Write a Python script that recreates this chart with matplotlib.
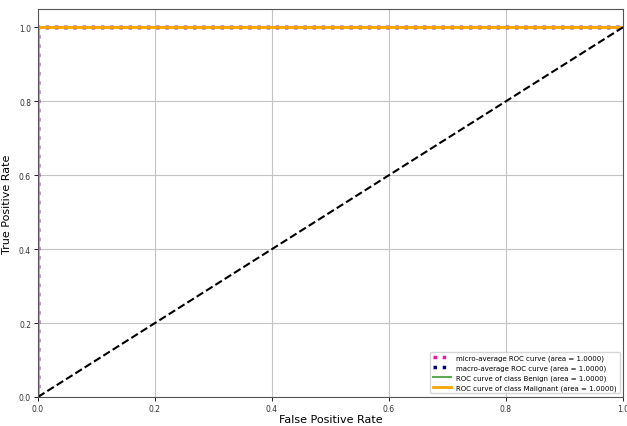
import matplotlib
matplotlib.use("Agg")
import matplotlib.pyplot as plt

# ROC points for a perfect classifier
fpr_micro = [0.0, 0.0, 1.0]
tpr_micro = [0.0, 1.0, 1.0]
fpr_macro = [0.0, 0.0, 1.0]
tpr_macro = [0.0, 1.0, 1.0]
fpr_benign = [0.0, 0.0, 1.0]
tpr_benign = [0.0, 1.0, 1.0]
fpr_malig = [0.0, 0.0, 1.0]
tpr_malig = [0.0, 1.0, 1.0]
auc_micro = 1.0
auc_macro = 1.0
auc_benign = 1.0
auc_malig = 1.0

fig = plt.figure(figsize=(6.27, 4.27), dpi=100)
ax = fig.add_axes([0.0606, 0.068, 0.933, 0.909])

ax.plot(fpr_micro, tpr_micro, color='deeppink', linestyle=':', linewidth=2.5,
        label='micro-average ROC curve (area = {0:0.4f})'.format(auc_micro))
ax.plot(fpr_macro, tpr_macro, color='navy', linestyle=':', linewidth=2.5,
        label='macro-average ROC curve (area = {0:0.4f})'.format(auc_macro))
ax.plot(fpr_benign, tpr_benign, color='#5fa854', linewidth=1.5,
        label='ROC curve of class Benign (area = {0:0.4f})'.format(auc_benign))
ax.plot(fpr_malig, tpr_malig, color='orange', linewidth=2,
        label='ROC curve of class Malignant (area = {0:0.4f})'.format(auc_malig))
ax.plot([0, 1], [0, 1], 'k--', linewidth=1.5)

ax.set_xlim(0.0, 1.0)
ax.set_ylim(0.0, 1.05)
ax.set_xlabel('False Positive Rate', fontsize=8, labelpad=1)
ax.set_ylabel('True Positive Rate', fontsize=8, labelpad=5)
ax.tick_params(labelsize=5.5, length=3, width=0.6, pad=2, labelcolor='#333333')
ax.grid(True, color='#c4c4c4', linewidth=0.8)
for s in ax.spines.values():
    s.set_linewidth(0.8)
    s.set_color('#555555')
ax.legend(loc='lower right', fontsize=5, handlelength=2.5)

fig.savefig('out.png', dpi=100)
